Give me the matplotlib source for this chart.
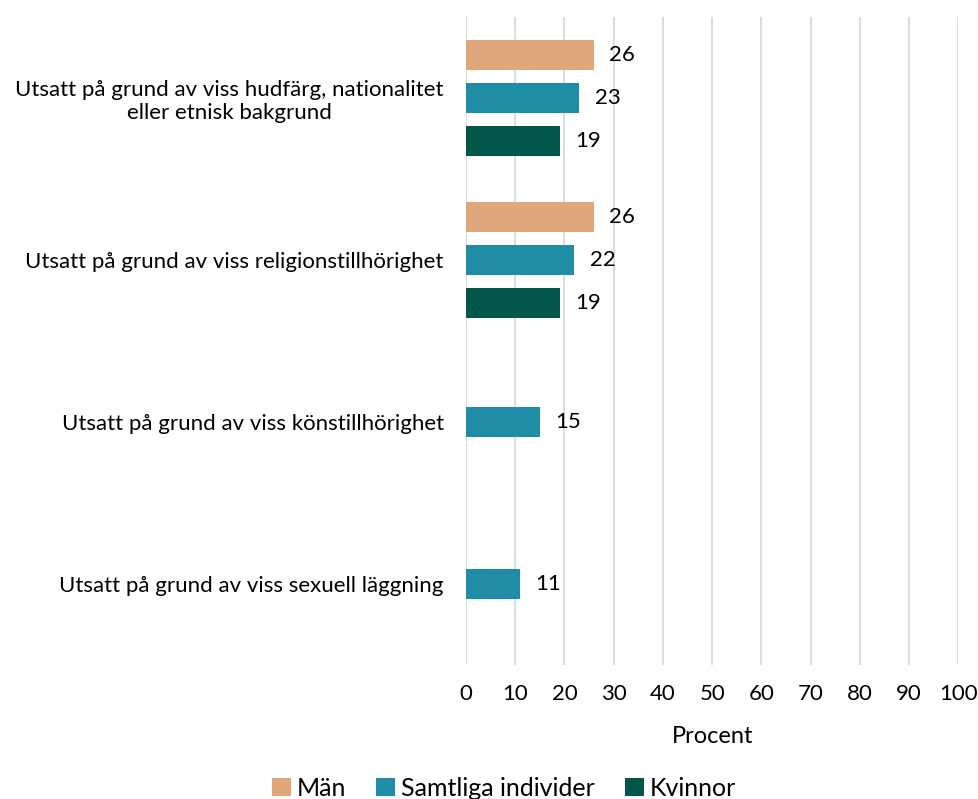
import numpy as np
import matplotlib.pyplot as plt

plt.rcParams['font.family'] = ['Lato', 'DejaVu Sans']

# data
kategorier = ['Utsatt på grund av viss hudfärg, nationalitet\neller etnisk bakgrund',
              'Utsatt på grund av viss religionstillhörighet',
              'Utsatt på grund av viss könstillhörighet',
              'Utsatt på grund av viss sexuell läggning']
serier = ['Män', 'Samtliga individer', 'Kvinnor']
man = [26, 26, np.nan, np.nan]
samtliga = [23, 22, 15, 11]
kvinnor = [19, 19, np.nan, np.nan]
x_ticks = list(range(0, 101, 10))

farger = ['#E0A77B', '#1F8EA5', '#02564A']

fig = plt.figure(figsize=(9.79, 7.99), dpi=100)
ax = fig.add_axes([0.476, 0.168, 0.503, 0.811])

y = np.arange(len(kategorier))
off = 0.265
h = 0.185
for vals, d, c, namn in zip([man, samtliga, kvinnor], [-off, 0, off], farger, serier):
    bars = ax.barh(y + d, vals, height=h, color=c, label=namn)
    for b, v in zip(bars, vals):
        if np.isnan(v):
            continue
        ax.annotate(f'{v:g}', (v, b.get_y() + b.get_height() / 2), xytext=(11, 0),
                    textcoords='offset points', ha='left', va='center', fontsize=16, color='#000000')

ax.set_ylim(len(kategorier) - 0.5, -0.5)
ax.set_xlim(0, 100)
ax.set_xticks(x_ticks)
ax.set_yticks(y)
ax.set_yticklabels(kategorier, multialignment='center')
ax.tick_params(axis='y', length=0, pad=16, labelsize=16)
ax.tick_params(axis='x', length=0, pad=14, labelsize=16)
ax.grid(axis='x', color='#D9D9D9', linewidth=1.3)
ax.set_axisbelow(True)
for s in ax.spines.values():
    s.set_visible(False)
ax.set_xlabel('Procent', fontsize=17, labelpad=16)

fig.legend(loc='lower center', bbox_to_anchor=(0.515, -0.029), ncol=3, frameon=False,
           fontsize=18, handlelength=0.75, handleheight=0.75, handletextpad=0.25, columnspacing=1.2)

fig.savefig('out.png', dpi=100)
